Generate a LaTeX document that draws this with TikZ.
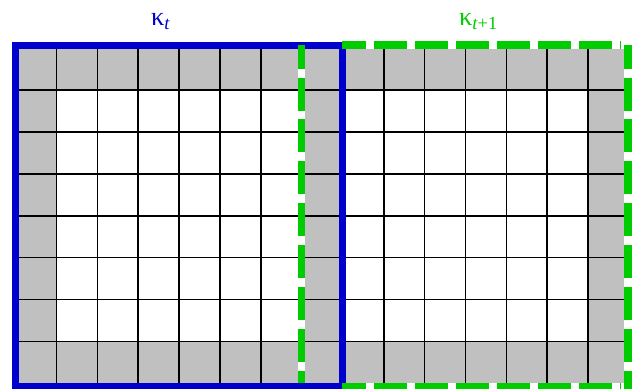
\documentclass[tikz,border=0pt]{standalone}
\usepackage{fontspec}
\newfontfamily\labelfont{Liberation Serif}
\definecolor{frameblue}{RGB}{0,0,204}
\definecolor{framegreen}{RGB}{0,204,0}
\definecolor{cellgray}{RGB}{192,192,192}
\begin{document}
\begin{tikzpicture}[x=0.02cm,y=-0.02cm,
  gridline/.style={line width=0.034cm,black},
  bluebox/.style={line width=0.14cm,frameblue,line join=miter},
  greenunder/.style={line width=0.16cm,white},
  greenh/.style={line width=0.16cm,framegreen,dash pattern=on 0.66cm off 0.16cm,dash phase=0.18cm},
  greenv/.style={line width=0.152cm,framegreen,dash pattern=on 0.66cm off 0.178cm,dash phase=0.18cm},
  kappa/.style={anchor=base west,font=\labelfont\fontsize{15}{18}\selectfont}]
  \useasboundingbox (0,0) rectangle (634,388);
  % cell geometry: 15 columns, 8 rows
  \def\xo{15.6}\def\cw{40.9}
  \def\yo{47.85}\def\rh{41.95}
  % grey border cells of both 8x8 blocks (they share column 7)
  \fill[cellgray] (\xo,\yo) rectangle ({\xo+15*\cw},{\yo+\rh});
  \fill[cellgray] (\xo,{\yo+7*\rh}) rectangle ({\xo+15*\cw},{\yo+8*\rh});
  \foreach \c in {0,7,14}
    \fill[cellgray] ({\xo+\c*\cw},\yo) rectangle ({\xo+(\c+1)*\cw},{\yo+8*\rh});
  % inner grid lines
  \foreach \k in {1,...,14}
    \draw[gridline] ({\xo+\k*\cw},\yo) -- ({\xo+\k*\cw},{\yo+8*\rh});
  \foreach \j in {1,...,7}
    \draw[gridline] (\xo,{\yo+\j*\rh}) -- ({\xo+15*\cw},{\yo+\j*\rh});
  % solid frame of the first block
  \draw[bluebox] (15.5,45.5) rectangle (342.7,386.5);
  % dashed frame of the second block, side by side
  \coordinate (gtl) at (301.5,44.7);
  \coordinate (gtm) at (342,44.7);
  \coordinate (gtr) at (628.3,44.7);
  \coordinate (gbl) at (301.5,383);
  \coordinate (gbm) at (342,387);
  \coordinate (gbr) at (628.3,387);
  \coordinate (gbe) at (628.3,392);
  \draw[greenunder] (gtm) -- (gtr);
  \draw[greenunder] (gbm) -- (gbr);
  \draw[greenunder,line width=0.152cm] (gtl) -- (gbl);
  \draw[greenunder] (gtr) -- (gbe);
  \draw[greenh] (gtm) -- (621,44.7);
  \draw[greenh] (gbm) -- (621,387);
  \draw[greenv] (gtl) -- (gbl);
  \draw[greenv,line width=0.16cm] (gtr) -- (gbe);
  % block labels
  \node[kappa,text=frameblue] (kt) at (145,25.5) {κ\textsubscript{\itshape t}};
  \node[kappa,text=framegreen] (kt1) at (453,25.5) {κ\textsubscript{\itshape t\upshape +1}};
\end{tikzpicture}
\end{document}
